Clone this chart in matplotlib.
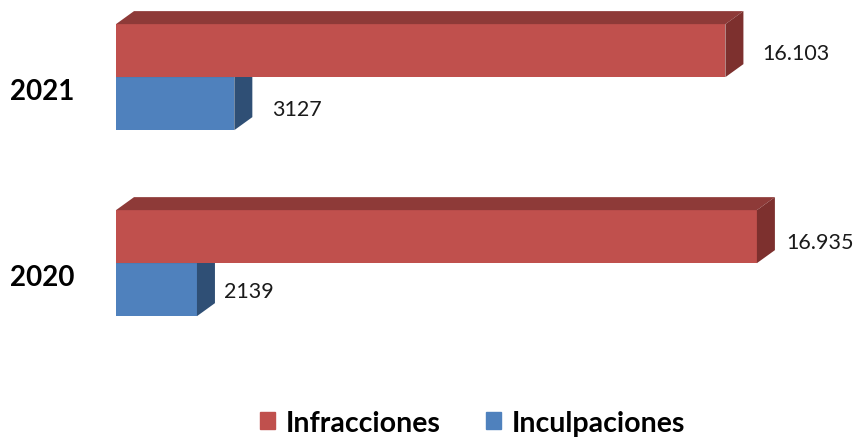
import matplotlib.pyplot as plt
from matplotlib.patches import Polygon, Patch

# datos
anios = ['2020', '2021']
infracciones = [16935, 16103]
inculpaciones = [2139, 3127]
etiq_inf = ['16.935', '16.103']
etiq_inc = ['2139', '3127']

# estilo
rojo = ('#C0504D', '#8E3A38', '#7D302E')    # frente, arriba, lado
azul = ('#4F81BD', '#3A5F8C', '#2F4F75')
off_inf = [(11, -5), (19, -2)]               # desplazamiento etiquetas (px)
off_inc = [(9, -1), (20, -5)]

plt.rcParams['font.family'] = ['Lato', 'DejaVu Sans']

fig = plt.figure(figsize=(8.57, 4.39), dpi=100)
ax = fig.add_axes([116/857, 0, 741/857, 1])
ax.set_xlim(0, 19580)
ax.set_ylim(-0.94, 1.42)
ax.axis('off')

# profundidad 3D en unidades de datos
inv = ax.transData.inverted()
p0 = inv.transform((0, 0))
p1 = inv.transform((18, 13))
dx, dy = p1[0]-p0[0], p1[1]-p0[1]
h = 53/186
pt = 72/100  # px -> pt

def barra3d(y, w, col, z):
	ax.barh(y, w, height=h, color=col[0], zorder=z, linewidth=0)
	arriba = Polygon([(0, y+h/2), (dx, y+h/2+dy), (w+dx, y+h/2+dy), (w, y+h/2)],
		closed=True, color=col[1], zorder=z, linewidth=0)
	lado = Polygon([(w, y-h/2), (w, y+h/2), (w+dx, y+h/2+dy), (w+dx, y-h/2+dy)],
		closed=True, color=col[2], zorder=z, linewidth=0)
	ax.add_patch(arriba)
	ax.add_patch(lado)

for i, anio in enumerate(anios):
	yr = i + h/2
	yb = i - h/2
	barra3d(yb, inculpaciones[i], azul, 1)
	barra3d(yr, infracciones[i], rojo, 2)
	ax.annotate(etiq_inf[i], (infracciones[i]+dx, yr), xytext=(off_inf[i][0]*pt, off_inf[i][1]*pt),
		textcoords='offset points', ha='left', va='center', fontsize=15.5, color='#1a1a1a')
	ax.annotate(etiq_inc[i], (inculpaciones[i]+dx, yb), xytext=(off_inc[i][0]*pt, off_inc[i][1]*pt),
		textcoords='offset points', ha='left', va='center', fontsize=15.5, color='#1a1a1a')
	ax.annotate(anio, (0, i), xytext=(-74*pt, -14*pt), textcoords='offset points',
		ha='center', va='center', fontsize=20, fontweight='bold', color='black',
		annotation_clip=False)

handles = [Patch(color=rojo[0], label='Infracciones'), Patch(color=azul[0], label='Inculpaciones')]
fig.legend(handles=handles, loc='center', bbox_to_anchor=(0.551, 0.035), ncol=2, frameon=False,
	prop={'size': 20.5, 'weight': 'bold'}, handlelength=0.55, handleheight=0.55,
	handletextpad=0.35, columnspacing=1.6)

fig.savefig('out.png', dpi=100)
